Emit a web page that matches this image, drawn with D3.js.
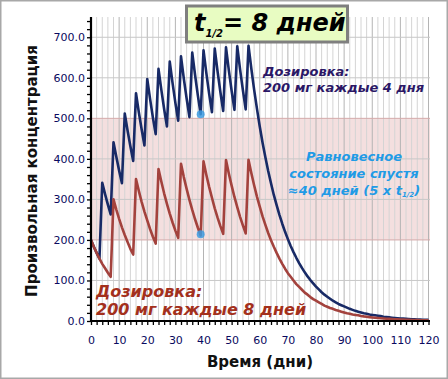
<!DOCTYPE html>
<html><head><meta charset="utf-8">
<script src="https://cdn.jsdelivr.net/npm/d3@7"></script>
<style>body{margin:0;background:#fff}svg{display:block}text{font-family:"DejaVu Sans",Verdana,sans-serif}</style>
</head><body><svg id="c" width="448" height="379"></svg>
<script>
// ---- data (daily values, days 0..120) ----
const days = d3.range(0, 121);
const blueSeries = [200,183,168,154, 341,313,287,263, 441,405,371,340, 512,470,431,395, 562,515,473,433, 597,548,502,461, 622,571,523,480, 640,587,538,494, 653,598,549,503, 662,607,556,510, 668,612,561,515, 672,616,565,518, 675,619,568,521, 678,621,570,522,
 679,623,571,524,480,440,404,370, 340,311,286,262,240,220,202,185, 170,156,143,131,120,110,101,93, 85,78,71,65,60,55,50,46, 42,39,36,33,30,27.5,25,23, 21,19,18,16,15,14,13,12, 10.6,9.7,8.9,8.2,7.5,6.9,6.3,5.8, 5.3,4.9,4.5,4.1,3.7,3.4,3.2,2.9, 2.7];
const redSeries = [200,183,168,154,141,130,119,109, 300,275,252,231,212,195,178,164, 350,321,294,270,248,227,208,191, 375,344,315,289,265,243,223,205, 388,355,326,299,274,251,230,211, 394,361,331,304,278,255,234,215, 397,364,334,306,281,257,236,216,
 398,365,335,307,282,258,237,217, 199,183,168,154,141,129,118,109, 100,91,84,77,70,65,59,54, 50,46,42,38,35,32,30,27, 25,23,21,19,18,16,15,14, 12.5,11.4,10.5,9.6,8.8,8.1,7.4,6.8, 6.2,5.7,5.2,4.8,4.4,4,3.7,3.4, 3.1,2.9,2.6,2.4,2.2,2,1.9,1.7, 1.6];
const markers = [{day:39, value:510}, {day:39, value:214}];
const band = [200, 500];
const xTicks = [0,10,20,30,40,50,60,70,80,90,100,110,120];
const yTicks = [0,100,200,300,400,500,600,700];
const xTitle = "Время (дни)";
const yTitle = "Произвольная концентрация";
const blueLabel = ["Дозировка:", "200 мг каждые 4 дня"];
const redLabel = ["Дозировка:", "200 мг каждые 8 дней"];
const steadyLabel = ["Равновесное", "состояние спустя", "≈40 дней (5 x t"];

const svg = d3.select("#c");
svg.append("rect").attr("x",0.75).attr("y",0.75).attr("width",446.5).attr("height",377.5)
  .attr("fill","#fff").attr("stroke","#a8a8a8").attr("stroke-width",1.5);

const x = d3.scaleLinear().domain([0,120]).range([91,428.5]);
const y = d3.scaleLinear().domain([0,750]).range([321,17]);
const pTop = y(750), pBot = y(0), pLeft = x(0), pRight = 430;

// band
svg.append("rect").attr("x",pLeft).attr("width",pRight-pLeft).attr("y",y(band[1])).attr("height",y(band[0])-y(band[1]))
  .attr("fill","#f4dfdf");
// vertical grid
const g = svg.append("g");
g.selectAll("line.v").data(d3.range(2,121,2)).join("line")
  .attr("x1",d=>x(d)).attr("x2",d=>x(d)).attr("y1",pTop).attr("y2",pBot)
  .attr("stroke",d=>d%10===0?"#b4b4b4":"#d4d4d4").attr("stroke-width",1);
// horizontal grid
g.selectAll("line.h").data(yTicks.slice(1)).join("line")
  .attr("x1",pLeft).attr("x2",pRight).attr("y1",d=>y(d)).attr("y2",d=>y(d))
  .attr("stroke",d=>band.includes(d)?"#d4aaaa":"#c8c8c8").attr("stroke-width",1);

// lines
const line = d3.line().x((d,i)=>x(days[i])).y(d=>y(d));
svg.append("path").attr("d",line(blueSeries)).attr("fill","none").attr("stroke","#182a66").attr("stroke-width",2.6).attr("stroke-linejoin","round");
svg.append("path").attr("d",line(redSeries)).attr("fill","none").attr("stroke","#a3423d").attr("stroke-width",2.6).attr("stroke-linejoin","round");
svg.selectAll("circle.m").data(markers).join("circle")
  .attr("cx",d=>x(d.day)).attr("cy",d=>y(d.value)).attr("r",4).attr("fill","#3d9be0").attr("opacity",0.85);

// axes
const yAxis = d3.axisLeft(y).tickValues(d3.range(0,751,20)).tickSize(4).tickFormat(d=>d%100===0&&d<=700?d3.format(".1f")(d):"");
const ya = svg.append("g").attr("transform",`translate(${pLeft},0)`).call(yAxis);
ya.select(".domain").remove();
ya.selectAll("line").attr("stroke","#000").attr("stroke-width",1.3);
ya.selectAll("text").attr("fill","#0a0a60").attr("font-size",11).attr("x",-6);
const xAxis = d3.axisBottom(x).tickValues(d3.range(0,121,2)).tickSize(4).tickFormat(d=>xTicks.includes(d)?d:"");
const xa = svg.append("g").attr("transform",`translate(0,${pBot})`).call(xAxis);
xa.select(".domain").remove();
xa.selectAll("line").attr("stroke","#000").attr("stroke-width",1.3);
xa.selectAll("text").attr("fill","#0a0a60").attr("font-size",11).attr("y",15);
svg.append("line").attr("x1",pLeft).attr("x2",pLeft).attr("y1",pTop).attr("y2",pBot+1).attr("stroke","#000").attr("stroke-width",2.2);
svg.append("line").attr("x1",pLeft-1).attr("x2",pRight).attr("y1",pBot).attr("y2",pBot).attr("stroke","#000").attr("stroke-width",2.2);

// axis titles
svg.append("text").attr("x",260).attr("y",367).attr("text-anchor","middle").attr("font-weight","bold").attr("font-size",15).attr("fill","#111").text(xTitle);
svg.append("text").attr("transform","translate(37,171) rotate(-90)").attr("text-anchor","middle").attr("font-weight","bold").attr("font-size",15).attr("fill","#111").text(yTitle);

// title box
svg.append("rect").attr("x",186.5).attr("y",6).attr("width",161).attr("height",36).attr("fill","#e8fcc2").attr("stroke","#7f7f7f").attr("stroke-width",3);
const tt = svg.append("text").attr("x",194).attr("y",31).attr("font-weight","bold").attr("font-style","italic").attr("fill","#000");
tt.append("tspan").attr("font-size",24).text("t");
tt.append("tspan").attr("font-size",10).attr("dy",6).text("1/2");
tt.append("tspan").attr("font-size",24).attr("dy",-6).text("= 8 дней");

// annotations
const ann = (lines, x0, y0, dy, size, color, anchor) => {
  const t = svg.append("text").attr("font-weight","bold").attr("font-style","italic").attr("font-size",size).attr("fill",color).attr("text-anchor",anchor);
  lines.forEach((l,i)=>t.append("tspan").attr("x",x0).attr("y",y0+i*dy).text(l));
  return t;
};
ann(blueLabel, 263, 76, 15.5, 13, "#2b1766", "start");
ann(redLabel, 96, 297, 17.5, 16, "#a3301c", "start");
const st = ann(steadyLabel, 354, 161, 17, 13, "#1f9be6", "middle");
const last = st.select("tspan:last-child");
last.append("tspan").attr("font-size",7).attr("dy",2).text("1/2");
last.append("tspan").attr("dy",-2).text(")");
</script></body></html>
